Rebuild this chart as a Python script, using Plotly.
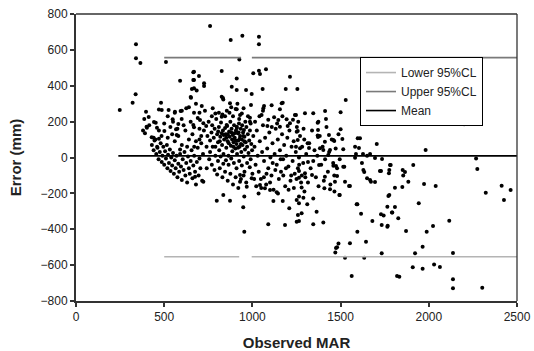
import plotly.graph_objects as go

# ---- data (Observed MAR, Error mm) ----
pts_left = [(248,265),(321,305),(338,352),(340,631),(340,553),(365,527),(387,215),(397,255),(412,226),(402,166),
    (391,135),(429,113),(452,194),(459,166),(470,268),(482,305),(470,105),(501,148),(415,180),(380,150),(445,95),
    (440,110),(460,60),(400,172),(442,198),(486,265),(510,532)]

pts_upper = [(760,733),(877,655),(943,679),(1037,673),(1037,631),(926,547),(669,478),(697,454),(669,432),(726,414),
    (669,386),(684,373),(826,482),(911,441),(1005,469),(1037,484),(1043,465),(1077,492),(1213,450),(883,395),(911,376),
    (964,376),(996,354),(1058,382),(1189,382),(1255,382),(826,339),(835,324),(873,302),(911,269),(992,293),(1062,274),
    (1109,291),(1172,305),(1156,269),(713,287),(731,261),(775,274),(669,250),(669,168),(826,227),(930,237),(986,222),
    (1052,237),(1123,224),(1194,213),(1247,237),(703,209),(722,191),(986,200),(1147,209),(1213,191),(1085,176),
    (1156,172),(854,181),(911,172),(952,153),(590,428),(665,475),(665,432),(657,382),(650,337),(525,265),(561,255),
    (593,259),(625,274),(548,213),(599,215),(580,187),(567,157),(571,125),(665,181),(652,333),(833,332),(726,399),
    (1166,302),(1066,287)]

pts_right = [(1529,321),(1298,246),(1345,246),(1412,259),(1500,252),(1417,215),(1241,237),(1374,200),(1372,153),
    (1370,122),(1434,125),(1500,157),(1510,103),(1257,148),(1610,107),(1370,194),(1464,92),(1515,46),(1582,60),
    (1597,107),(1459,-46),(1521,-51),(1251,144),(1257,98),(1313,79),(1247,60),(1402,42),(2200,185),(1982,42),
    (1604,53),(1705,75),(1587,19),(1627,19),(1667,19),(1695,-3),(1735,-8),(1621,-31),(1634,-81),(1729,-75),
    (1780,-42),(1776,-70),(1865,-81),(1912,-42),(2268,-5),(2275,-64),(1372,114),(1411,88),(1459,98),(1270,51),
    (1321,53),(1383,51),(1440,42),(1430,14),(1315,-25),(1378,-42),(1474,-47),(1515,-51),(1264,-75),(1298,-88),
    (1338,-98),(1411,-107),(1464,-101),(1480,-103),(1468,-135),(1525,-135),(1548,-159),(1408,-172),(1440,-177),
    (1493,-209),(1264,-113),(1279,-167),(1289,-224),(1264,-218),(1264,-255),(1279,-311),(1311,-261),(1345,-228),
    (1364,-302),(1345,-372),(1402,-363),(1264,-354),(1582,-1),(1650,10),(1629,-70),(1650,-116),(1723,-75),
    (1672,-135),(1784,-42),(1852,-70),(1855,-101),(1808,-168),(1850,-164),(1771,-215),(1765,-274),(1793,-306),
    (1827,-339),(1744,-324),(1767,-380),(1733,-376),(1680,-354),(1595,-261),(1616,-313),(1595,-414),(1644,-469),
    (1553,-478),(1474,-505),(1470,-530),(1525,-559),(1634,-559),(1733,-534),(1563,-661),(1820,-661),(1833,-665),
    (1553,-159),(1667,-125),(1695,-137),(1774,-88),(1776,-209),(1884,-135),(1973,-148),(2039,-159),(2413,-157),
    (2464,-181),(2323,-196),(2426,-237),(1729,-317),(1808,-276),(1791,-306),(1765,-386),(1871,-410),(1943,-255),
    (1988,-414),(2024,-382),(2116,-352),(1922,-534),(1965,-497),(2137,-532),(1909,-612),(1965,-620),(2030,-597),
    (2063,-610),(2137,-679),(2137,-729),(2303,-726),(1488,-480),(1480,-500)]

pts_low = [(798,-241),(835,-209),(873,-241),(954,-218),(948,-278),(954,-414),(1090,-372),(1185,-376),(1209,-283),
    (1251,-358),(1119,-243),(1172,-243),(1138,-194),(1100,-181),(930,-135),(968,-163),(722,-135),(675,-107),
    (741,-60),(930,-98),(996,-116),(1043,-153),(1071,-172),(1251,-237),(1258,-321),(1495,-209),(1591,-261)]

pts_dense_a = [(430,70),(440,40),(450,100),(455,20),(462,55),(468,-10),(475,30),(480,80),(486,-25),(490,10),
    (495,60),(500,-40),(505,35),(510,-5),(515,70),(518,-60),(522,15),(527,-30),(532,45),(536,-75),(540,0),(545,-45),
    (550,25),(555,-90),(560,-15),(565,-60),(570,10),(575,-110),(580,-35),(585,-80),(590,20),(595,-50),(600,-125),
    (605,-10),(610,-70),(615,30),(620,-100),(625,-30),(630,-140),(635,5),(640,-60),(645,-90),(650,-20),(655,40),
    (660,-115),(665,-45),(670,10),(675,-80),(680,-150),(685,-25),(690,55),(695,-100),(700,-5),(705,-60),(710,80),
    (715,-130),(720,20),(560,90),(580,120),(600,70),(620,150),(640,100),(660,130),(680,90),(700,160),(545,130),
    (575,160),(610,180),(650,200),(690,220),(710,120),(630,60),(590,45),(670,60),(700,100),(470,150),(485,120),
    (500,190),(520,110),(535,170),(550,200),(520,230),(560,250),(600,260),(640,280),(680,300),(700,250)]

pts_dense_b = [(725,150),(738,175),(745,120),(752,200),(760,95),(768,140),(772,180),(781,110),(786,160),(790,60),
    (795,215),(800,130),(805,85),(810,170),(812,40),(818,115),(822,195),(828,70),(833,150),(836,20),(840,100),
    (845,230),(848,130),(852,55),(857,175),(860,90),(864,10),(868,145),(871,115),(875,200),(878,65),(882,160),
    (886,35),(889,125),(893,85),(896,180),(900,110),(903,50),(907,150),(910,75),(913,20),(917,135),(920,95),
    (924,190),(927,60),(930,120),(934,160),(937,30),(940,100),(944,70),(947,140),(951,5),(955,115),(958,45),
    (962,85),(966,170),(970,60),(974,130),(978,25),(982,95),(986,150),(990,-10),(994,75),(998,40),
    (760,30),(775,60),(790,10),(805,-20),(820,5),(835,-35),(850,-15),(865,-40),(880,-5),(895,-30),(910,-60),
    (925,-20),(940,-45),(955,-80),(970,-30),(985,-55),(1000,-90),(740,60),(755,-10),(770,-40),(785,-70),(800,-95),
    (815,-60),(830,-110),(845,-80),(860,-130),(875,-90),(890,-150),(905,-110),(920,-170),(935,-120),(950,-100),
    (965,-140),(870,250),(890,230),(905,270),(925,215),(940,245),(880,280),(855,260),(830,240),(960,200),(975,230),
    (990,190),(810,250),(790,245),(770,230),(950,275),(915,300),(880,140),(885,100),(892,60),(898,135),(905,95),
    (912,165),(918,55),(922,140),(928,105),(935,75),(942,180),(948,120),(954,90),(860,130),(866,80),(852,110),
    (845,165),(838,125),(826,135),(815,90),(806,145)]

pts_dense_c = [(1005,120),(1012,60),(1018,-40),(1025,150),(1030,10),(1036,-80),(1042,90),(1048,-120),(1055,30),
    (1060,180),(1066,-20),(1072,110),(1078,-150),(1084,50),(1090,-60),(1096,140),(1102,0),(1108,-100),(1114,80),
    (1120,-180),(1126,20),(1132,160),(1138,-40),(1144,100),(1150,-120),(1156,40),(1162,-80),(1168,130),(1174,-10),
    (1180,70),(1186,-160),(1192,10),(1198,110),(1204,-50),(1210,150),(1216,-130),(1222,60),(1228,-20),(1234,90),
    (1240,-90),(1246,30),(1252,170),(1258,-60),(1264,0),(1270,120),(1276,-140),(1282,60),(1288,-30),(1294,100),
    (1300,-110),(1010,-120),(1022,-160),(1035,-200),(1050,-170),(1065,-110),(1080,-90),(1100,-140),(1115,-30),
    (1130,-70),(1145,-200),(1160,-10),(1175,-100),(1190,-60),(1205,-180),(1220,-100),(1235,-170),(1250,-120),
    (1265,-40),(1280,-100),(1295,-190),(1015,200),(1040,230),(1060,260),(1090,210),(1110,170),(1140,190),
    (1170,230),(1200,175),(1230,210),(1260,200),(1290,160),
    (1305,20),(1315,-140),(1322,80),(1330,-60),(1338,150),(1345,-20),(1352,40),(1360,-110),(1368,10),(1375,-160),
    (1382,120),(1390,-40),(1398,60),(1405,-130),(1412,-10),(1420,170),(1428,-80),(1435,30),(1442,-150),(1450,100),
    (1458,-30),(1465,-190),(1472,50),(1480,-60),(1488,130),(1495,-10)]

all_pts = pts_left + pts_upper + pts_right + pts_low + pts_dense_a + pts_dense_b + pts_dense_c
obs_mar = [p[0] for p in all_pts]
error_mm = [p[1] for p in all_pts]

lower_x = [500, 925, None, 996, 2500]
lower_cl = [-553, -553, None, -553, -553]
upper_x = [500, 936, None, 997, 2500]
upper_cl = [557, 557, None, 557, 557]
mean_x = [240, 2500]
mean_err = [9, 9]

x_ticks = [0, 500, 1000, 1500, 2000, 2500]
y_ticks = [-800, -600, -400, -200, 0, 200, 400, 600, 800]

FONT = "Liberation Sans, Arial, sans-serif"

fig = go.Figure()
fig.add_trace(go.Scatter(x=obs_mar, y=error_mm, mode="markers", showlegend=False,
                         marker=dict(color="black", size=4, line=dict(width=0))))
fig.add_trace(go.Scatter(x=lower_x, y=lower_cl, mode="lines", name="Lower 95%CL",
                         line=dict(color="#b4b4b4", width=1.6)))
fig.add_trace(go.Scatter(x=upper_x, y=upper_cl, mode="lines", name="Upper 95%CL",
                         line=dict(color="#7a7a7a", width=1.6)))
fig.add_trace(go.Scatter(x=mean_x, y=mean_err, mode="lines", name="Mean",
                         line=dict(color="black", width=1.6)))

fig.update_layout(
    width=534, height=351,
    margin=dict(l=76, r=17, t=14, b=50),
    paper_bgcolor="white", plot_bgcolor="white",
    font=dict(family=FONT, color="#222", size=12),
    legend=dict(x=0.644, y=0.85, xanchor="left", yanchor="top",
                bordercolor="black", borderwidth=1, bgcolor="white",
                font=dict(size=12, color="#222"), itemwidth=30, tracegroupgap=0,
                entrywidth=110, entrywidthmode="pixels"),
    xaxis=dict(range=[0, 2500], tickvals=x_ticks, showgrid=False, zeroline=False, automargin=False,
               ticklabeloverflow="allow",
               showline=True, linecolor="#333", linewidth=2, ticks="outside", ticklen=4,
               tickcolor="#333", tickwidth=1.5, tickfont=dict(size=12),
               title=dict(text="<b>Observed MAR</b>", font=dict(size=15))),
    yaxis=dict(range=[-800, 800], tickvals=y_ticks, showgrid=False, zeroline=False, automargin=False,
               ticklabeloverflow="allow",
               showline=True, linecolor="#333", linewidth=2, ticks="outside", ticklen=4,
               tickcolor="#333", tickwidth=1.5, tickfont=dict(size=12),
               title=dict(text="<b>Error (mm)</b>", font=dict(size=15))),
    shapes=[
        dict(type="line", xref="paper", yref="paper", x0=0, x1=1, y0=1, y1=1,
             line=dict(color="#333", width=1.3)),
        dict(type="line", xref="paper", yref="paper", x0=1, x1=1, y0=0, y1=1,
             line=dict(color="#333", width=1.3)),
    ],
)

fig.write_html("out.html", config={"displayModeBar": False},
               post_script="document.body.style.margin='0';document.body.style.overflow='hidden';")
